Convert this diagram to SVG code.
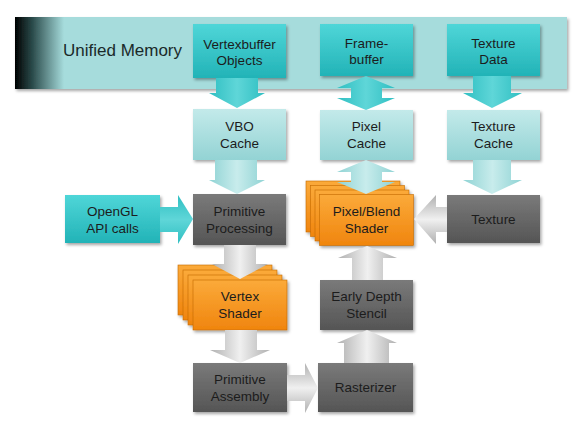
<svg xmlns="http://www.w3.org/2000/svg" width="585" height="440" viewBox="0 0 585 440">
<defs>
  <linearGradient id="band" gradientUnits="userSpaceOnUse" x1="15" y1="0" x2="64" y2="0">
    <stop offset="0" stop-color="#000"/>
    <stop offset="0.35" stop-color="#2a4a4a"/>
    <stop offset="1" stop-color="#a6dcdc"/>
  </linearGradient>
  <linearGradient id="teal" x1="0" y1="0" x2="0" y2="1">
    <stop offset="0" stop-color="#4fd6d8"/>
    <stop offset="1" stop-color="#22b3b7"/>
  </linearGradient>
  <linearGradient id="ltteal" x1="0" y1="0" x2="0" y2="1">
    <stop offset="0" stop-color="#c3eaea"/>
    <stop offset="1" stop-color="#93d3d4"/>
  </linearGradient>
  <linearGradient id="gray" x1="0" y1="0" x2="0" y2="1">
    <stop offset="0" stop-color="#7a7a7a"/>
    <stop offset="1" stop-color="#555"/>
  </linearGradient>
  <linearGradient id="orange" x1="0" y1="0" x2="0" y2="1">
    <stop offset="0" stop-color="#fbaa3a"/>
    <stop offset="1" stop-color="#f0850e"/>
  </linearGradient>
  <linearGradient id="atealv" x1="0" y1="0" x2="1" y2="0">
    <stop offset="0" stop-color="#2fbfc2"/>
    <stop offset="0.5" stop-color="#5fd6d8"/>
    <stop offset="1" stop-color="#2fbfc2"/>
  </linearGradient>
  <linearGradient id="altv" x1="0" y1="0" x2="1" y2="0">
    <stop offset="0" stop-color="#8fd3d4"/>
    <stop offset="0.5" stop-color="#c8ecec"/>
    <stop offset="1" stop-color="#8fd3d4"/>
  </linearGradient>
  <linearGradient id="agrayv" x1="0" y1="0" x2="1" y2="0">
    <stop offset="0" stop-color="#b0b0b0"/>
    <stop offset="0.5" stop-color="#f0f0f0"/>
    <stop offset="1" stop-color="#b0b0b0"/>
  </linearGradient>
  <linearGradient id="agrayh" x1="0" y1="0" x2="0" y2="1">
    <stop offset="0" stop-color="#b0b0b0"/>
    <stop offset="0.5" stop-color="#f0f0f0"/>
    <stop offset="1" stop-color="#b0b0b0"/>
  </linearGradient>
  <linearGradient id="atealh" x1="0" y1="0" x2="0" y2="1">
    <stop offset="0" stop-color="#2fbfc2"/>
    <stop offset="0.5" stop-color="#5fd6d8"/>
    <stop offset="1" stop-color="#2fbfc2"/>
  </linearGradient>
  <filter id="sh" x="-10%" y="-10%" width="130%" height="140%">
    <feDropShadow dx="1.5" dy="2" stdDeviation="1.5" flood-color="#000" flood-opacity="0.35"/>
  </filter>
</defs>
<style>
  text { font-family: "Liberation Sans", Arial, sans-serif; font-size: 13.5px; fill: #1c1c1c; text-anchor: middle; }
  .big { font-size: 17px; text-anchor: start; fill: #1a2a2a; }
  .tb { fill: url(#teal); filter: url(#sh); }
  .lb { fill: url(#ltteal); filter: url(#sh); }
  .gb { fill: url(#gray); filter: url(#sh); }
  .ob { fill: url(#orange); stroke: #c46a00; stroke-width: 0.6; }
  .at { fill: url(#atealv); }
  .ath { fill: url(#atealh); }
  .al { fill: url(#altv); }
  .ag { fill: url(#agrayv); }
  .agh { fill: url(#agrayh); }
</style>

<g id="memory">
  <rect x="15" y="17" width="552" height="72" fill="url(#band)" filter="url(#sh)"/>
  <text class="big" x="63" y="56">Unified Memory</text>
</g>

<g id="vbo">
  <rect class="tb" x="193" y="24" width="93" height="54"/>
  <text x="239.5" y="49">Vertexbuffer</text>
  <text x="239.5" y="65">Objects</text>
</g>
<g id="framebuffer">
  <rect class="tb" x="320" y="24" width="93" height="52"/>
  <text x="366.5" y="48">Frame-</text>
  <text x="366.5" y="64">buffer</text>
</g>
<g id="texturedata">
  <rect class="tb" x="447" y="24" width="93" height="52"/>
  <text x="493.5" y="48">Texture</text>
  <text x="493.5" y="64">Data</text>
</g>

<g id="vbocache">
  <rect class="lb" x="193" y="109" width="93" height="51"/>
  <text x="239.5" y="131">VBO</text>
  <text x="239.5" y="148">Cache</text>
</g>
<g id="pixelcache">
  <rect class="lb" x="320" y="110" width="93" height="50"/>
  <text x="366.5" y="131">Pixel</text>
  <text x="366.5" y="148">Cache</text>
</g>
<g id="texturecache">
  <rect class="lb" x="447" y="110" width="93" height="50"/>
  <text x="493.5" y="131">Texture</text>
  <text x="493.5" y="148">Cache</text>
</g>

<g id="opengl">
  <rect class="tb" x="65" y="195" width="95" height="48"/>
  <text x="112.5" y="216">OpenGL</text>
  <text x="112.5" y="233">API calls</text>
</g>
<g id="primproc">
  <rect class="gb" x="193" y="194" width="93" height="51"/>
  <text x="239.5" y="216">Primitive</text>
  <text x="239.5" y="233">Processing</text>
</g>
<g id="pixelblend">
  <g filter="url(#sh)">
    <rect class="ob" x="306" y="181" width="94" height="51"/>
    <rect class="ob" x="310.5" y="185.5" width="94" height="51"/>
    <rect class="ob" x="315" y="190" width="94" height="51"/>
    <rect class="ob" x="319.5" y="194.5" width="94" height="51"/>
  </g>
  <text x="366.5" y="216">Pixel/Blend</text>
  <text x="366.5" y="233">Shader</text>
</g>
<g id="texture">
  <rect class="gb" x="447" y="195" width="93" height="48"/>
  <text x="493.5" y="224">Texture</text>
</g>

<g id="vertexshader">
  <g filter="url(#sh)">
    <rect class="ob" x="178" y="265" width="94" height="50"/>
    <rect class="ob" x="183" y="270" width="94" height="50"/>
    <rect class="ob" x="188" y="275" width="94" height="50"/>
    <rect class="ob" x="193" y="280" width="94" height="50"/>
  </g>
  <text x="240" y="301">Vertex</text>
  <text x="240" y="318">Shader</text>
</g>
<g id="earlydepth">
  <rect class="gb" x="320" y="280" width="93" height="50"/>
  <text x="366.5" y="301">Early Depth</text>
  <text x="366.5" y="318">Stencil</text>
</g>

<g id="primassembly">
  <rect class="gb" x="193" y="363" width="94" height="49"/>
  <text x="240" y="384">Primitive</text>
  <text x="240" y="401">Assembly</text>
</g>
<g id="rasterizer">
  <rect class="gb" x="318" y="363" width="95" height="49"/>
  <text x="365.5" y="392">Rasterizer</text>
</g>

<g id="connectors">
  <!-- VBO memory -> cache -->
  <path class="at" d="M216,78 H258 V93 H265 L237,108 L209,93 H216 Z"/>
  <!-- Framebuffer <-> Pixel cache -->
  <path class="at" d="M366,76 L395,88 H382 V98 H395 L366,110 L337,98 H351 V88 H337 Z"/>
  <!-- Texture data -> texture cache -->
  <path class="at" d="M473,76 H511 V93 H522 L492,108 L463,93 H473 Z"/>
  <!-- VBO cache -> Primitive processing -->
  <path class="al" d="M215,160 H257 V180 H265 L237,194 L209,180 H215 Z"/>
  <!-- Pixel cache <-> Pixel/Blend -->
  <path class="al" d="M366,160 L395,172 H382 V182 H395 L366,194 L337,182 H351 V172 H337 Z"/>
  <!-- Texture cache -> Texture -->
  <path class="al" d="M473,160 H511 V180 H522 L492,194 L463,180 H473 Z"/>
  <!-- OpenGL -> Primitive processing -->
  <path class="ath" d="M160,207 H178 V195 L193,219 L178,244 V232 H160 Z"/>
  <!-- Texture -> Pixel/Blend -->
  <path class="agh" d="M447,207 H436 V195 L414,219 L436,244 V232 H447 Z"/>
  <!-- Primitive processing -> Vertex shader -->
  <path class="ag" d="M224,245 H256 V264 H268 L240,279 L212,264 H224 Z"/>
  <!-- Vertex shader -> Primitive assembly -->
  <path class="ag" d="M225,330 H257 V350 H270 L240,363 L210,350 H225 Z"/>
  <!-- Primitive assembly -> Rasterizer -->
  <path class="agh" d="M287,375 H305 V363 L318,388 L305,413 V401 H287 Z"/>
  <!-- Rasterizer -> Early depth -->
  <path class="ag" d="M344,363 H389 V343 H397 L367,330 L337,343 H344 Z"/>
  <!-- Early depth -> Pixel/Blend -->
  <path class="ag" d="M352,280 H383 V258 H397 L367,246 L338,258 H352 Z"/>
</g>
</svg>
